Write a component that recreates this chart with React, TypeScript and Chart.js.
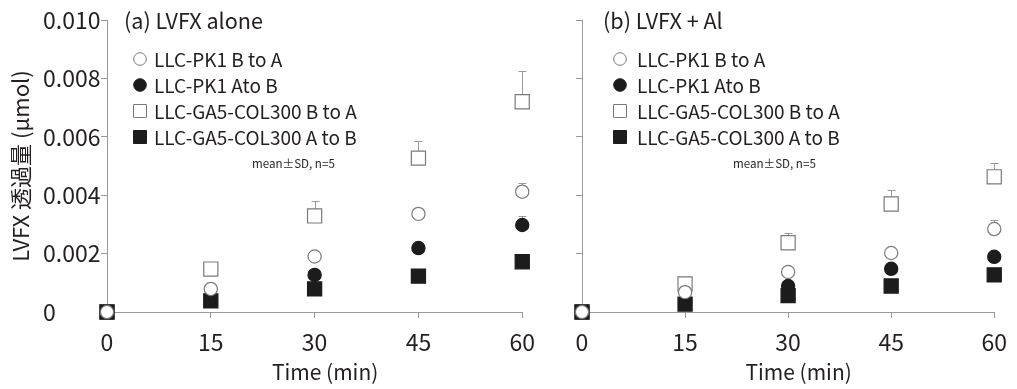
import React, { useEffect, useRef } from 'react';
import { Chart, registerables } from 'chart.js';

Chart.register(...registerables);

// ---------- data ----------
const TIMES = [0, 15, 30, 45, 60];
const SERIES_LABELS = [
  'LLC-PK1 B to A',
  'LLC-PK1 Ato B',
  'LLC-GA5-COL300 B to A',
  'LLC-GA5-COL300 A to B',
];

// (a) LVFX alone
const A_PK1_BA = [0, 0.00079, 0.0019, 0.00336, 0.00412];
const A_PK1_BA_SD = [0, 0.0001, 0.0001, 0.0001, 0.0003];
const A_PK1_AB = [0, 0.00045, 0.00127, 0.00219, 0.00298];
const A_PK1_AB_SD = [0, 0.00005, 0.0001, 0.0001, 0.0003];
const A_COL_BA = [0, 0.00147, 0.00329, 0.00527, 0.0072];
const A_COL_BA_SD = [0, 0.0001, 0.0005, 0.0006, 0.00105];
const A_COL_AB = [0, 0.00038, 0.00079, 0.00123, 0.00172];
const A_COL_AB_SD = [0, 0.00005, 0.0001, 0.0001, 0.0001];

// (b) LVFX + Al
const B_PK1_BA = [0, 0.00068, 0.00137, 0.00202, 0.00284];
const B_PK1_BA_SD = [0, 0.0001, 0.0001, 0.0001, 0.0003];
const B_PK1_AB = [0, 0.0003, 0.00089, 0.00148, 0.00189];
const B_PK1_AB_SD = [0, 0.00005, 0.0001, 0.0001, 0.0001];
const B_COL_BA = [0, 0.00096, 0.00237, 0.0037, 0.00463];
const B_COL_BA_SD = [0, 0.0001, 0.00033, 0.00048, 0.00047];
const B_COL_AB = [0, 0.00027, 0.00056, 0.00089, 0.00127];
const B_COL_AB_SD = [0, 0.00005, 0.0001, 0.0001, 0.0001];

const X_MIN = 0;
const X_MAX = 60;
const X_STEP = 15;
const Y_MIN = 0;
const Y_MAX = 0.01;
const Y_STEP = 0.002;

const Y_TITLE = 'LVFX 透過量 (μmol)';
const X_TITLE = 'Time (min)';
const NOTE = 'mean±SD, n=5';

// ---------- styles ----------
const FONT = "'Noto Sans CJK JP', 'Open Sans', sans-serif";
const TEXT = '#231f20';
const AXIS = '#9a9a9a';
const OPEN_EDGE = '#7a7a7a';
const FILL = '#1c1c1c';

// draw order: lower `order` is drawn on top
const MARKERS = [
  { pointStyle: 'circle', radius: 6.6, bg: '#ffffff', border: OPEN_EDGE, order: 0 },
  { pointStyle: 'circle', radius: 6.6, bg: FILL, border: FILL, order: 1 },
  { pointStyle: 'rect', radius: 10, bg: '#ffffff', border: OPEN_EDGE, order: 3 },
  { pointStyle: 'rect', radius: 10, bg: FILL, border: FILL, order: 2 },
];

const PANELS = [
  {
    key: 'a',
    title: '(a) LVFX alone',
    series: [A_PK1_BA, A_PK1_AB, A_COL_BA, A_COL_AB],
    sds: [A_PK1_BA_SD, A_PK1_AB_SD, A_COL_BA_SD, A_COL_AB_SD],
    left: 0,
    width: 545,
    padLeft: 43,
    yAxisWidth: 64,
    rightPad: 16,
    showY: true,
    titleX: 124,
    markerX: 140,
    textX: 154,
    noteX: 252,
  },
  {
    key: 'b',
    title: '(b) LVFX + Al',
    series: [B_PK1_BA, B_PK1_AB, B_COL_BA, B_COL_AB],
    sds: [B_PK1_BA_SD, B_PK1_AB_SD, B_COL_BA_SD, B_COL_AB_SD],
    left: 540,
    width: 477,
    padLeft: 0,
    yAxisWidth: 42,
    rightPad: 14,
    showY: false,
    titleX: 63,
    markerX: 80,
    textX: 97,
    noteX: 193,
  },
];

const HEIGHT = 389;
const LEGEND_ROWS = [59, 85, 111, 137];

const errorBarPlugin = {
  id: 'errorBars',
  beforeDatasetsDraw(chart: any) {
    const ctx = chart.ctx;
    const xs = chart.scales.x;
    const ys = chart.scales.y;
    ctx.save();
    ctx.strokeStyle = AXIS;
    ctx.lineWidth = 1;
    chart.data.datasets.forEach((ds: any) => {
      const sd = ds.sd || [];
      ds.data.forEach((p: any, i: number) => {
        const s = sd[i] || 0;
        if (!s) return;
        const x = Math.round(xs.getPixelForValue(p.x)) + 0.5;
        const y0 = ys.getPixelForValue(p.y);
        const y1 = Math.round(ys.getPixelForValue(p.y + s)) + 0.5;
        ctx.beginPath();
        ctx.moveTo(x, y0);
        ctx.lineTo(x, y1);
        ctx.moveTo(x - 4, y1);
        ctx.lineTo(x + 4, y1);
        ctx.stroke();
      });
    });
    ctx.restore();
  },
};

function makeAnnotPlugin(panel: any) {
  return {
    id: 'annot',
    afterDraw(chart: any) {
      const ctx = chart.ctx;
      const area = chart.chartArea;
      ctx.save();
      ctx.fillStyle = TEXT;
      ctx.textBaseline = 'middle';
      ctx.textAlign = 'left';
      ctx.font = `21.6px ${FONT}`;
      ctx.fillText(panel.title, panel.titleX, 21);

      // x-axis title
      ctx.textAlign = 'center';
      ctx.font = `21px ${FONT}`;
      ctx.fillText(X_TITLE, (area.left + area.right) / 2 + 10.5, 372);
      ctx.textAlign = 'left';

      ctx.font = `19px ${FONT}`;
      chart.data.datasets.forEach((ds: any, i: number) => {
        const y = LEGEND_ROWS[i];
        const x = panel.markerX;
        ctx.fillStyle = ds.backgroundColor;
        ctx.strokeStyle = ds.borderColor;
        ctx.lineWidth = 1;
        ctx.beginPath();
        if (ds.pointStyle === 'circle') {
          ctx.arc(x, y, 6.3, 0, Math.PI * 2);
        } else {
          ctx.rect(x - 6.5, y - 6.5, 13, 13);
        }
        ctx.fill();
        ctx.stroke();
        ctx.fillStyle = TEXT;
        ctx.fillText(ds.label, panel.textX, y + 1);
      });

      ctx.font = `11.6px ${FONT}`;
      ctx.fillText(NOTE, panel.noteX, 164);
      ctx.restore();
    },
  };
}

function Panel({ panel }: { panel: any }) {
  const ref = useRef<HTMLCanvasElement | null>(null);

  useEffect(() => {
    if (!ref.current) return;
    const datasets = SERIES_LABELS.map((label, si) => ({
      label,
      data: TIMES.map((t, i) => ({ x: t, y: panel.series[si][i] })),
      sd: panel.sds[si],
      order: MARKERS[si].order,
      pointStyle: MARKERS[si].pointStyle,
      pointRadius: MARKERS[si].radius,
      backgroundColor: MARKERS[si].bg,
      borderColor: MARKERS[si].border,
      pointBorderWidth: 1.2,
      showLine: false,
      clip: false,
    }));

    const chart = new Chart(ref.current, {
      type: 'scatter',
      data: { datasets } as any,
      options: {
        responsive: false,
        animation: false,
        events: [],
        layout: { padding: { top: 20, right: panel.rightPad, left: panel.padLeft, bottom: 0 } },
        plugins: {
          legend: { display: false },
          tooltip: { enabled: false },
        },
        scales: {
          x: {
            type: 'linear',
            min: X_MIN,
            max: X_MAX,
            ticks: {
              stepSize: X_STEP,
              color: TEXT,
              font: { family: FONT, size: 23 },
              padding: 10,
              maxRotation: 0,
            },
            grid: {
              display: true,
              drawOnChartArea: false,
              drawTicks: true,
              tickLength: 6,
              color: AXIS,
            },
            border: { display: true, color: AXIS, width: 1 },
            title: { display: false, text: X_TITLE },
            afterFit: (s: any) => {
              s.height = 77;
            },
          },
          y: {
            type: 'linear',
            min: Y_MIN,
            max: Y_MAX,
            ticks: {
              stepSize: Y_STEP,
              display: panel.showY,
              color: TEXT,
              crossAlign: 'far',
              font: { family: FONT, size: 23 },
              padding: 4,
              callback: (v: any) => (Number(v) === 0 ? '0' : Number(v).toFixed(3)),
            },
            grid: {
              display: true,
              drawOnChartArea: false,
              drawTicks: true,
              tickLength: 6,
              color: AXIS,
            },
            border: { display: true, color: AXIS, width: 1 },
            title: {
              display: panel.showY,
              text: Y_TITLE,
              color: TEXT,
              font: { family: FONT, size: 22 },
              padding: { top: -36, bottom: 0 },
            },
            afterFit: (s: any) => {
              s.width = panel.yAxisWidth;
            },
          },
        },
      } as any,
      plugins: [errorBarPlugin, makeAnnotPlugin(panel)],
    });
    return () => chart.destroy();
  }, [panel]);

  return (
    <canvas
      ref={ref}
      width={panel.width}
      height={HEIGHT}
      style={{ position: 'absolute', left: panel.left, top: 0, width: panel.width, height: HEIGHT }}
    />
  );
}

export default function App() {
  return (
    <div style={{ position: 'fixed', left: 0, top: 0, width: 1017, height: HEIGHT, background: '#fff' }}>
      {PANELS.map((p) => (
        <Panel key={p.key} panel={p} />
      ))}
    </div>
  );
}
